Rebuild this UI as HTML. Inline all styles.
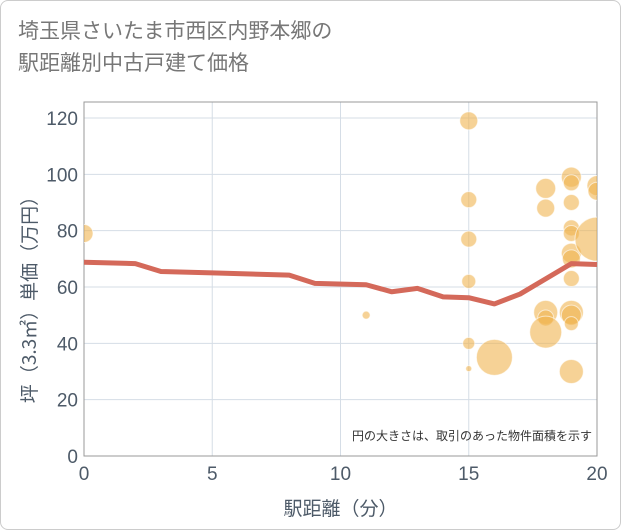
<!DOCTYPE html>
<html><head><meta charset="utf-8"><style>
body{margin:0;background:#fff;font-family:"Liberation Sans","Noto Sans CJK JP",sans-serif}
#card{position:absolute;left:0;top:0;width:619px;height:528px;border:1px solid #ccc;border-radius:8px;background:#fff}
#title{position:absolute;left:18px;top:14px;font-size:21px;line-height:32px;color:#777;font-family:"Noto Sans CJK JP",sans-serif}
</style></head><body>
<div id="card"></div>
<div id="title">埼玉県さいたま市西区内野本郷の<br>駅距離別中古戸建て価格</div>
<svg id="chart" width="621" height="530" style="position:absolute;left:0;top:0"></svg>
<script>
const xTicks=[0,5,10,15,20];
const yTicks=[0,20,40,60,80,100,120];
const bubbleX=[0,11,15,15,15,15,15,15,16,18,18,18,18,18,19,19,19,19,19,19,19,19,19,19,19,19,20,20,20];
const bubbleY=[79,50,119,91,77,62,40,31,35,95,88,51,49,44,99,97,90,81,79,72,70,63,51,50,47,30,96,94,77];
const bubbleSize=[9,4,9,8,8,7,6,3,18,10,9,12,8,16,10,8,8,8,8,10,9,8,12,10,7,12,10,9,22];
const lineX=[0,2,3,5,8,9,11,12,13,14,15,16,17,19,20];
const lineY=[68.8,68.3,65.5,65,64.2,61.3,60.8,58.3,59.5,56.5,56.2,54,57.5,68.3,68];
const NS="http://www.w3.org/2000/svg";
const svg=document.getElementById('chart');
const L=84,R=597,T=102,B=456;
const TXT='#4d5a68';
const sx=v=>L+v*(R-L)/20, sy=v=>B-v*(B-118)/120;
function mk(t,a){const e=document.createElementNS(NS,t);for(const k in a)e.setAttribute(k,a[k]);svg.appendChild(e);return e;}
const clip=mk('clipPath',{id:'pc'});const cr=document.createElementNS(NS,'rect');
cr.setAttribute('x',L);cr.setAttribute('y',T);cr.setAttribute('width',R-L);cr.setAttribute('height',B-T);clip.appendChild(cr);
yTicks.forEach(v=>{const g=mk('line',{x1:L,x2:R,y1:sy(v),y2:sy(v),stroke:'#d5dde6','stroke-width':1});

const t=mk('text',{x:L-6,y:sy(v)+7,'text-anchor':'end','font-size':19,fill:TXT});t.textContent=v;
});
xTicks.forEach(v=>{const g=mk('line',{x1:sx(v),x2:sx(v),y1:T,y2:B,stroke:'#d5dde6','stroke-width':1});

const t=mk('text',{x:sx(v),y:B+24,'text-anchor':'middle','font-size':19,fill:TXT});t.textContent=v;
});
const fr=mk('rect',{x:L,y:T,width:R-L,height:B-T,fill:'none',stroke:'#999','stroke-width':1});

bubbleX.forEach((v,i)=>{const c=mk('circle',{cx:sx(v),cy:sy(bubbleY[i]),r:bubbleSize[i],fill:'rgba(240,180,80,0.6)',stroke:'rgba(255,255,255,0.6)','stroke-width':1,'clip-path':'url(#pc)'});
});
const p=mk('polyline',{points:lineX.map((v,i)=>sx(v)+','+sy(lineY[i])).join(' '),fill:'none',stroke:'#d4695a','stroke-width':5,'stroke-linejoin':'round'});

const n=mk('text',{x:592,y:440,'text-anchor':'end','font-size':12,fill:'#333','font-family':'Noto Sans CJK JP,sans-serif'});n.textContent='円の大きさは、取引のあった物件面積を示す';

const xt=mk('text',{x:(L+R)/2,y:515,'text-anchor':'middle','font-size':19,fill:TXT,'font-family':'Noto Sans CJK JP,sans-serif'});xt.textContent='駅距離（分）';

const yt=mk('text',{x:0,y:0,'text-anchor':'middle','font-size':19,fill:TXT,'font-family':'Noto Sans CJK JP,sans-serif',transform:'translate(36,'+((T+B)/2+16)+') rotate(-90)'});yt.textContent='坪（3.3㎡）単価（万円）';

</script>
</body></html>
